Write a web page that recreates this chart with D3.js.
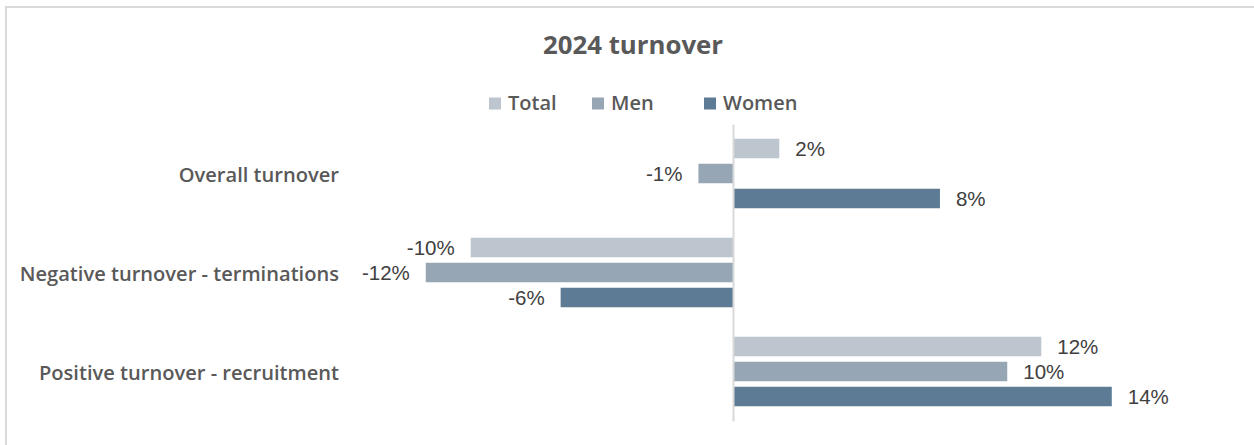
<!DOCTYPE html>
<html>
<head>
<meta charset="utf-8">
<script src="https://cdn.jsdelivr.net/npm/d3@7"></script>
<style>
  html, body { margin: 0; padding: 0; background: #fff; }
  svg { display: block; }
</style>
</head>
<body>
<svg id="chart" width="1254" height="445"></svg>
<script>
// Turnover rates for 2024, as fractions
const categories = ["Overall turnover", "Negative turnover - terminations", "Positive turnover - recruitment"];
const seriesNames = ["Total", "Men", "Women"];
const totalValues = [0.0174, -0.0986, 0.1159];
const menValues   = [-0.0130, -0.1155, 0.1031];
const womenValues = [0.0778, -0.0648, 0.1424];
const seriesColors = ["#BDC5CF", "#97A6B4", "#5D7B95"];

const W = 1254, H = 445;
const svg = d3.select("#chart");

// chart frame
svg.append("rect")
  .attr("x", 6).attr("y", 7)
  .attr("width", W + 10).attr("height", H + 10)
  .attr("fill", "#fff")
  .attr("stroke", "#D9D9D9").attr("stroke-width", 2);

const rows = categories.map((c, i) => ({
  category: c,
  values: [totalValues[i], menValues[i], womenValues[i]]
}));

const x = d3.scaleLinear().domain([-0.15, 0.15]).range([334, 1132]);
const y = d3.scaleBand().domain(categories).range([124, 421]);
const yInner = d3.scaleBand().domain(seriesNames)
  .range([14.75, 84.25]).paddingInner(0.22).paddingOuter(0);

const textColor = "#595959";
// whole percent, plain hyphen for negatives
const pctBase = d3.format(".0%");
const pct = v => pctBase(v).replace("\u2212", "-");

// title
svg.append("text")
  .attr("x", 633).attr("y", 54)
  .attr("text-anchor", "middle")
  .attr("font-family", "'Open Sans', sans-serif")
  .attr("font-weight", 700)
  .attr("font-size", 25.8)
  .attr("fill", textColor)
  .text("2024 turnover");

// legend
const legendX = [489, 592, 704];
const legend = svg.append("g").selectAll("g")
  .data(seriesNames)
  .join("g")
  .attr("transform", (d, i) => `translate(${legendX[i]},0)`);
legend.append("rect")
  .attr("x", 0).attr("y", 97.5)
  .attr("width", 12).attr("height", 12)
  .attr("fill", (d, i) => seriesColors[i]);
legend.append("text")
  .attr("x", 19).attr("y", 110)
  .attr("font-family", "'Open Sans', sans-serif")
  .attr("font-weight", 600)
  .attr("font-size", 20)
  .attr("fill", textColor)
  .text(d => d);

// bars
const groups = svg.append("g").selectAll("g")
  .data(rows)
  .join("g")
  .attr("transform", d => `translate(0,${y(d.category)})`);

groups.selectAll("rect")
  .data(d => d.values.map((v, i) => ({ v, s: seriesNames[i], i })))
  .join("rect")
  .attr("x", d => x(Math.min(0, d.v)))
  .attr("y", d => yInner(d.s))
  .attr("width", d => Math.abs(x(d.v) - x(0)))
  .attr("height", yInner.bandwidth())
  .attr("fill", d => seriesColors[d.i]);

// value labels
groups.selectAll("text")
  .data(d => d.values.map((v, i) => ({ v, s: seriesNames[i], i })))
  .join("text")
  .attr("x", d => d.v >= 0 ? x(d.v) + 16 : x(d.v) - 16)
  .attr("y", d => yInner(d.s) + yInner.bandwidth() / 2)
  .attr("dy", "0.37em")
  .attr("text-anchor", d => d.v >= 0 ? "start" : "end")
  .attr("font-family", "'Liberation Sans', Arial, sans-serif")
  .attr("font-size", 20.5)
  .attr("fill", "#404040")
  .text(d => pct(d.v));

// zero axis line
const zeroAxis = svg.append("g")
  .attr("transform", `translate(${x(0)},0)`)
  .call(d3.axisLeft(y).tickSize(0).tickFormat("").tickSizeOuter(0));
zeroAxis.select(".domain").attr("stroke", "#D9D9D9").attr("stroke-width", 2);

// category labels at the low end
const catAxis = svg.append("g")
  .attr("transform", "translate(341,0)")
  .call(d3.axisLeft(y).tickSize(0).tickPadding(2));
catAxis.select(".domain").remove();
catAxis.selectAll("text")
  .attr("dy", "0.41em")
  .attr("font-family", "'Open Sans', sans-serif")
  .attr("font-weight", 600)
  .attr("font-size", 20.1)
  .attr("fill", textColor);
</script>
</body>
</html>
